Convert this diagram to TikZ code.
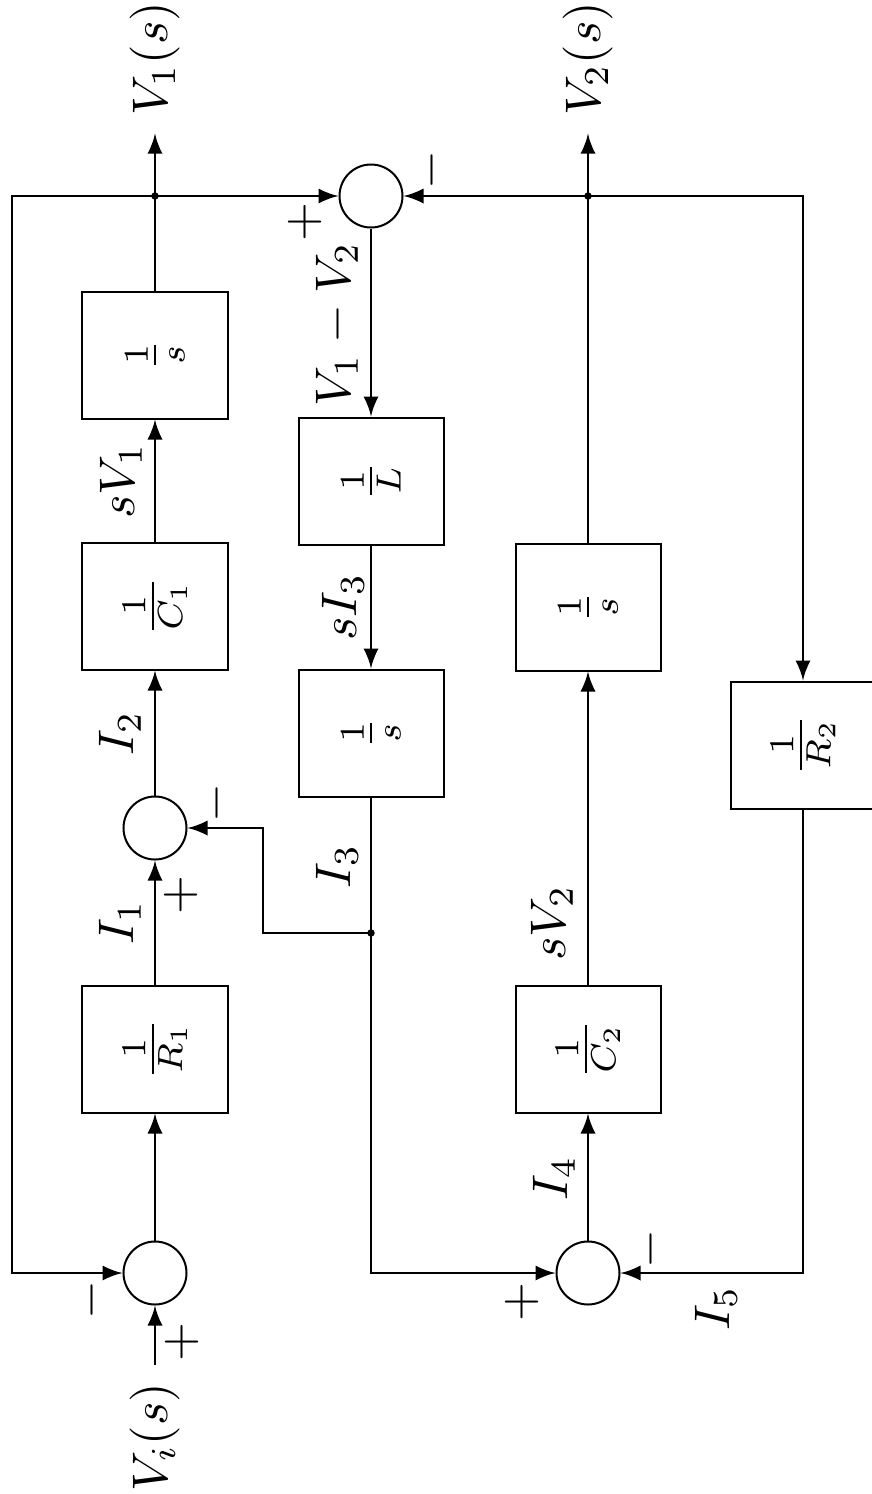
\documentclass[tikz,border=0pt]{standalone}
\usepackage{amsmath,amssymb}
\usepackage{graphicx}
\usepackage{tikz}

\newcommand{\rtxt}[1]{\rotatebox{90}{$#1$}}

\begin{document}
\begin{tikzpicture}[x=0.2pt,y=-0.2pt,>=latex,
  blk/.style={draw, minimum width=29pt, minimum height=25.4pt, inner sep=0pt},
  sumc/.style={draw, circle, minimum size=12.6pt, inner sep=0pt},
  lbl/.style={rotate=90}]

  \useasboundingbox (0,0) rectangle (871,1494);

  % left column
  \node[lbl] (vi) at (155,1437) {$V_i(s)$};
  \node[sumc] (s1) at (155,1273) {};
  \node[blk] (r1) at (155,1049) {\rtxt{\frac{1}{R_1}}};
  \node[sumc] (s2) at (155,828) {};
  \node[blk] (c1) at (155,606) {\rtxt{\frac{1}{C_1}}};
  \node[blk] (int1) at (155,355) {\rtxt{\frac{1}{s}}};
  \coordinate (j1) at (155,196);
  \node[lbl] (v1) at (155,59) {$V_1(s)$};

  % middle column
  \node[sumc] (s3) at (371,196) {};
  \node[blk] (l1) at (371,481) {\rtxt{\frac{1}{L}}};
  \node[blk] (int3) at (371,733) {\rtxt{\frac{1}{s}}};
  \coordinate (j3) at (371,933);
  \coordinate (k3) at (263,933);

  % right column
  \node[sumc] (s4) at (588,1273) {};
  \node[blk] (c2) at (588,1049) {\rtxt{\frac{1}{C_2}}};
  \node[blk] (int2) at (588,607) {\rtxt{\frac{1}{s}}};
  \coordinate (j2) at (588,196);
  \node[lbl] (v2) at (588,59) {$V_2(s)$};
  \coordinate (fr) at (803,196);
  \node[blk] (r2) at (803,745) {\rtxt{\frac{1}{R_2}}};
  \coordinate (fl) at (12,196);

  % signals
  \node[lbl] (li1) at (120,922) {$I_1$};
  \node[lbl] (li2) at (120,733) {$I_2$};
  \node[lbl] (lsv1) at (121,481) {$sV_1$};
  \node[lbl] (lv12) at (337,324) {$V_1 - V_2$};
  \node[lbl] (lsi3) at (343,607) {$sI_3$};
  \node[lbl] (li3) at (337,866) {$I_3$};
  \node[lbl] (lsv2) at (552,923) {$sV_2$};
  \node[lbl] (li4) at (554,1178) {$I_4$};
  \node[lbl] (li5) at (716,1308) {$I_5$};

  % signs
  \node[lbl] (m1) at (92,1300) {$-$};
  \node[lbl] (p1) at (182,1342) {$+$};
  \node[lbl] (m2) at (217,803) {$-$};
  \node[lbl] (p2) at (181,895) {$+$};
  \node[lbl] (p3) at (305,222) {$+$};
  \node[lbl] (m3) at (432,170) {$-$};
  \node[lbl] (p4) at (522,1302) {$+$};
  \node[lbl] (m4) at (651,1249) {$-$};

  % connectors
  \draw[->] (vi.east) -- (s1.south);
  \draw[->] (s1.north) -- (r1.south);
  \draw[->] (r1.north) -- (s2.south);
  \draw[->] (s2.north) -- (c1.south);
  \draw[->] (c1.north) -- (int1.south);
  \draw (int1.north) -- (j1);
  \draw[->] (j1) -- (v1.west);
  \draw[->] (j1) -- (fl) |- (s1.west);
  \draw[->] (j1) -- (s3.west);
  \draw[->] (s3.south) -- (l1.north);
  \draw[->] (l1.south) -- (int3.north);
  \draw (int3.south) -- (j3);
  \draw[->] (j3) -- (k3) |- (s2.east);
  \draw[->] (j3) |- (s4.west);
  \draw[->] (s4.north) -- (c2.south);
  \draw[->] (c2.north) -- (int2.south);
  \draw (int2.north) -- (j2);
  \draw[->] (j2) -- (v2.west);
  \draw[->] (j2) -- (s3.east);
  \draw[->] (j2) -- (fr) -- (r2.north);
  \draw[->] (r2.south) |- (s4.east);

  % junctions
  \foreach \j in {j1,j2,j3}
    \fill (\j) circle [radius=0.75pt];

\end{tikzpicture}
\end{document}
